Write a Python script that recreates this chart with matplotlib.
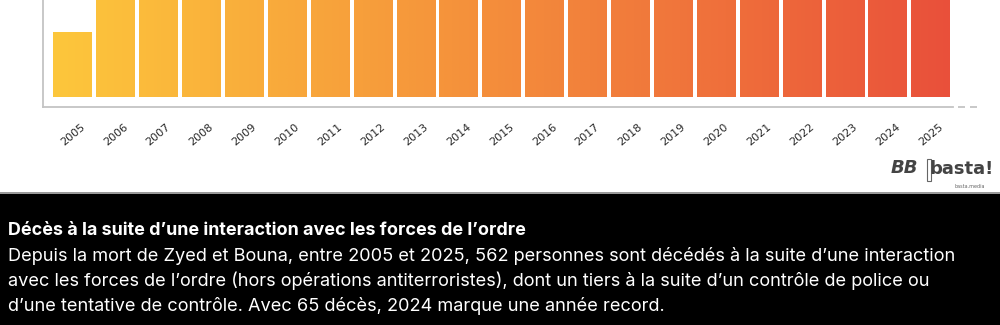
import numpy as np
import matplotlib.pyplot as plt
from matplotlib.colors import LinearSegmentedColormap
from matplotlib.patches import Rectangle
import matplotlib.transforms as mtransforms

# Data (yearly deaths, chart is cropped at the top)
years = [str(y) for y in range(2005, 2026)]
deaths = [13, 21, 20, 22, 20, 21, 20, 24, 22, 20, 22, 25, 28, 27, 26, 30, 33, 37, 40, 65, 26]

title = "Décès à la suite d\u2019une interaction avec les forces de l\u2019ordre"
body = ["Depuis la mort de Zyed et Bouna, entre 2005 et 2025, 562 personnes sont décédés à la suite d\u2019une interaction",
        "avec les forces de l\u2019ordre (hors opérations antiterroristes), dont un tiers à la suite d\u2019un contrôle de police ou",
        "d\u2019une tentative de contrôle. Avec 65 décès, 2024 marque une année record."]

W, H = 1000, 325
fig = plt.figure(figsize=(W/100, H/100), dpi=100)
fig.patch.set_facecolor('white')

# black caption band + thin grey separator
fig.patches.append(Rectangle((0, 0), 1, 131/H, transform=fig.transFigure,
                             facecolor='black', edgecolor='none', zorder=0))
fig.patches.append(Rectangle((0, 131/H), 1, 2/H, transform=fig.transFigure,
                             facecolor='#9a9a9a', edgecolor='none', zorder=0))

ax = fig.add_axes([43/W, (H-107)/H, 910/W, 107/H])
x = np.arange(len(years))
xlo, xhi = -0.69, 20.52
ylo, yhi = -2, 19.4
ax.set_xlim(xlo, xhi)
ax.set_ylim(ylo, yhi)

bars = ax.bar(x, deaths, width=0.9, color='none', edgecolor='none')

cmap = LinearSegmentedColormap.from_list(
    'grad', ['#fdc83c', '#f9ab3b', '#f48d3b', '#ef6f3b', '#e9503a'])
grad = np.linspace(0, 1, 512).reshape(1, -1)
for b in bars:
    im = ax.imshow(grad, cmap=cmap, aspect='auto', extent=[xlo, xhi, ylo, yhi],
                   zorder=2)
    im.set_clip_path(b)

for s in ['top', 'right']:
    ax.spines[s].set_visible(False)
for s in ['left', 'bottom']:
    ax.spines[s].set_color('#c4c4c4')
    ax.spines[s].set_linewidth(1.3)

ax.set_yticks([])
ax.set_xticks(x)
ax.set_xticklabels(years, rotation=40, ha='center', va='center',
                   fontsize=8, fontweight='medium', color='#2a2a2a', family='DejaVu Sans')
ax.tick_params(axis='x', length=0, pad=20)

# dashed continuation of the baseline
trans = mtransforms.blended_transform_factory(ax.transData, ax.transAxes)
for x0, x1 in [(20.64, 20.80), (20.92, 21.08)]:
    ax.plot([x0, x1], [0, 0], transform=trans, color='#c4c4c4', lw=1.3,
            solid_capstyle='butt', clip_on=False)

# logo
fig.text(904/W, (H-168)/H, "BB", fontsize=13, fontweight='bold', style='italic',
         color='#444444', ha='center', va='center', family='DejaVu Sans')
fig.text(962/W, (H-169)/H, "basta!", fontsize=13, fontweight='bold',
         color='#444444', ha='center', va='center', family='Liberation Sans Narrow')
fig.patches.append(Rectangle((927/W, (H-181)/H), 4/W, 22/H, transform=fig.transFigure,
                             facecolor='none', edgecolor='#666666', lw=0.8))
fig.text(970/W, (H-186)/H, "basta.media", fontsize=3.5, color='#666666',
         ha='center', va='center')

# caption
fig.canvas.draw()
r = fig.canvas.get_renderer()

def fit(txt, target):
    bb = txt.get_window_extent(r)
    txt.set_fontsize(txt.get_fontsize() * target / bb.width)

fam = 'Inter'
t = fig.text(8/W, (H-235)/H, title, color='white', fontsize=12, fontweight='bold',
             family=fam, ha='left', va='baseline')
fit(t, 515)
ys = [261, 286, 311]
lines = []
for i, (s, yy) in enumerate(zip(body, ys)):
    lines.append(fig.text(8/W, (H-yy)/H, s, color='white', fontsize=12,
                          family=fam, ha='left', va='baseline'))
fit(lines[0], 950)
for l in lines[1:]:
    l.set_fontsize(lines[0].get_fontsize())

fig.savefig('out.png', dpi=100, facecolor=fig.get_facecolor())
